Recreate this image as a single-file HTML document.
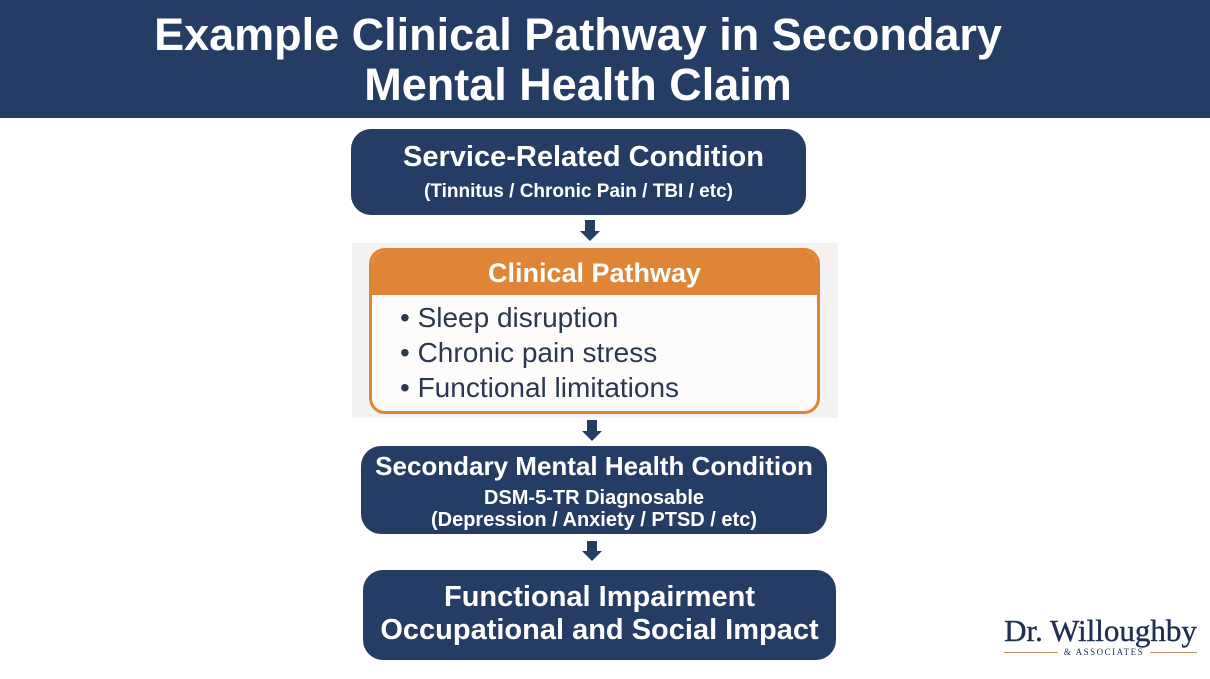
<!DOCTYPE html>
<html><head><style>
*{margin:0;padding:0;box-sizing:border-box}
body{width:1210px;height:679px;background:#fff;position:relative;overflow:hidden;font-family:"Liberation Sans",Arial,sans-serif}
.a{position:absolute}
.hdr{left:0;top:0;width:1210px;height:118px;background:#253d65}
.t{position:absolute;left:0;width:1156px;text-align:center;color:#fff;font-weight:bold;font-size:45px;line-height:50px}
.box{position:absolute;background:#253d65;border-radius:20px;color:#fff;text-align:center;font-weight:bold}
.stem{position:absolute;background:#253d65;width:10px}
.head{position:absolute;width:0;height:0;border-left:10px solid transparent;border-right:10px solid transparent;border-top:10px solid #253d65}
.ln{position:absolute;left:0;width:100%}
</style></head><body>
<div class="a hdr"></div>
<div class="t" style="top:10px">Example Clinical Pathway in Secondary</div>
<div class="t" style="top:60px">Mental Health Claim</div>

<div class="box" style="left:351px;top:129px;width:455px;height:86px">
<div class="ln" style="top:12px;font-size:29px;line-height:32px;padding-left:10px">Service-Related Condition</div>
<div class="ln" style="top:51px;font-size:19px;line-height:24px">(Tinnitus / Chronic Pain / TBI / etc)</div>
</div>

<div class="stem" style="left:585px;top:220px;height:12px"></div>
<div class="head" style="left:580px;top:231px"></div>

<div class="a" style="left:352px;top:243px;width:486px;height:175px;background:#f4f3f1"></div>
<div class="a" style="left:369px;top:248px;width:451px;height:166px;border:3px solid #dd8435;border-radius:16px;background:#fdfcfb;overflow:hidden">
<div class="a" style="left:0;top:0;width:100%;height:44px;background:#df8536;color:#fff;font-weight:bold;font-size:27px;line-height:44px;text-align:center">Clinical Pathway</div>
<div class="a" style="left:28px;top:49px;color:#2b3850;font-size:28px;line-height:35px">
<div>• Sleep disruption</div><div>• Chronic pain stress</div><div>• Functional limitations</div></div>
</div>

<div class="stem" style="left:587px;top:420px;height:12px"></div>
<div class="head" style="left:582px;top:431px"></div>

<div class="box" style="left:361px;top:446px;width:466px;height:88px">
<div class="ln" style="top:5px;font-size:26px;line-height:30px">Secondary Mental Health Condition</div>
<div class="ln" style="top:41px;font-size:20px;line-height:22px">DSM-5-TR Diagnosable<br>(Depression / Anxiety / PTSD / etc)</div>
</div>

<div class="stem" style="left:587px;top:541px;height:11px"></div>
<div class="head" style="left:582px;top:551px"></div>

<div class="box" style="left:363px;top:570px;width:473px;height:90px">
<div class="ln" style="top:11px;font-size:29px;line-height:33px">Functional Impairment<br>Occupational and Social Impact</div>
</div>

<div class="a" style="left:1000px;top:615px;width:201px;text-align:center;font-family:'Liberation Serif',serif;color:#1f2f4f;font-size:31px;line-height:32px;-webkit-text-stroke:0.4px #1f2f4f">Dr. Willoughby</div>
<div class="a" style="left:1004px;top:652px;width:54px;height:1px;background:#c98a5a"></div>
<div class="a" style="left:1150px;top:652px;width:47px;height:1px;background:#c98a5a"></div>
<div class="a" style="left:1058px;top:647px;width:92px;text-align:center;font-family:'Liberation Serif',serif;color:#1f2f4f;font-size:9px;letter-spacing:1.5px;line-height:10px">&amp; ASSOCIATES</div>
</body></html>
